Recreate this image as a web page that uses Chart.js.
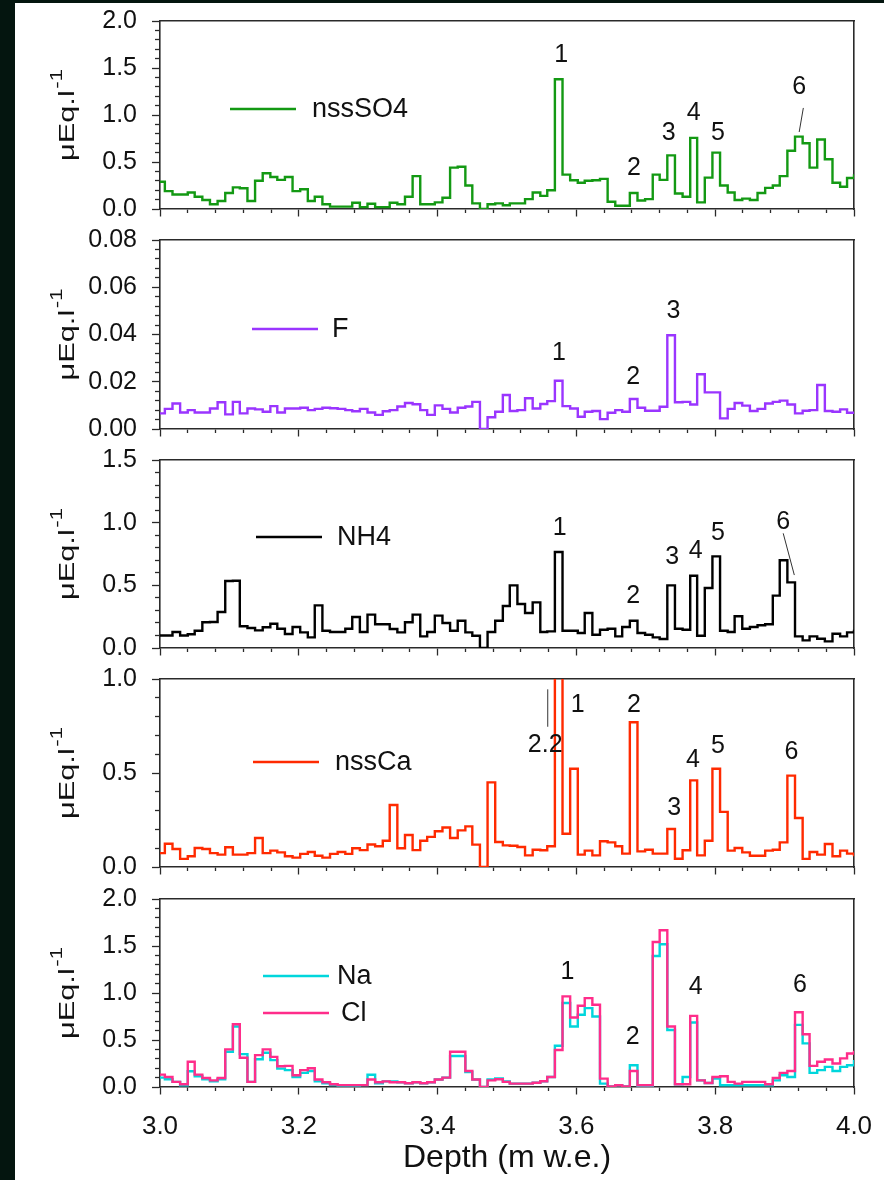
<!DOCTYPE html>
<html>
<head>
<meta charset="utf-8">
<script src="https://cdn.jsdelivr.net/npm/chart.js@4.4.1/dist/chart.umd.min.js"></script>
<style>
  html, body { margin: 0; padding: 0; }
  body { width: 884px; height: 1180px; background: #04150f; position: relative; overflow: hidden; }
  #sheet { position: absolute; left: 15px; top: 3px; width: 869px; height: 1177px; background: #fff; }
  canvas { position: absolute; left: 0; }
</style>
</head>
<body>
<div id="sheet"></div>
<canvas id="pSO4"></canvas>
<canvas id="pF"></canvas>
<canvas id="pNH4"></canvas>
<canvas id="pCa"></canvas>
<canvas id="pNaCl"></canvas>
<script>
// sample tops (m w.e.), last entry closes the final step
const depth = [
  3.000, 3.007, 3.018, 3.029, 3.040, 3.050, 3.061, 3.072, 3.083, 3.094,
  3.105, 3.115, 3.126, 3.137, 3.148, 3.159, 3.169, 3.180, 3.191, 3.202,
  3.213, 3.223, 3.234, 3.245, 3.256, 3.267, 3.277, 3.288, 3.299, 3.310,
  3.321, 3.331, 3.342, 3.353, 3.364, 3.375, 3.385, 3.396, 3.407, 3.418,
  3.429, 3.440, 3.450, 3.461, 3.472, 3.483, 3.494, 3.504, 3.515, 3.526,
  3.537, 3.548, 3.558, 3.569, 3.580, 3.591, 3.602, 3.612, 3.623, 3.634,
  3.645, 3.656, 3.666, 3.677, 3.688, 3.699, 3.710, 3.720, 3.731, 3.742,
  3.753, 3.764, 3.774, 3.785, 3.796, 3.807, 3.818, 3.828, 3.839, 3.850,
  3.861, 3.872, 3.883, 3.893, 3.904, 3.915, 3.926, 3.936, 3.947, 3.958,
  3.969, 3.980, 3.990, 4.000
];

const nssSO4 = [
  0.29, 0.19, 0.155, 0.155, 0.176, 0.13, 0.095, 0.05, 0.085, 0.17,
  0.23, 0.22, 0.085, 0.30, 0.38, 0.34, 0.31, 0.34, 0.19, 0.21,
  0.085, 0.13, 0.05, 0.025, 0.025, 0.025, 0.067, 0.02, 0.056, 0.02,
  0.02, 0.067, 0.05, 0.13, 0.35, 0.05, 0.05, 0.07, 0.12, 0.44,
  0.45, 0.25, 0.06, 0.0, 0.05, 0.06, 0.04, 0.06, 0.06, 0.105,
  0.176, 0.14, 0.2, 1.38, 0.366, 0.306, 0.28, 0.30, 0.306, 0.32,
  0.077, 0.035, 0.035, 0.17, 0.09, 0.105, 0.366, 0.31, 0.57, 0.165,
  0.13, 0.757, 0.07, 0.334, 0.6, 0.25, 0.176, 0.095, 0.11, 0.095,
  0.17, 0.225, 0.25, 0.35, 0.62, 0.77, 0.70, 0.44, 0.74, 0.53,
  0.28, 0.236, 0.33, 0.37
];

const fluoride = [
  0.0066, 0.0085, 0.0108, 0.007, 0.008, 0.007, 0.007, 0.0087, 0.0113, 0.0062,
  0.0115, 0.0066, 0.0087, 0.0083, 0.0073, 0.0097, 0.007, 0.0087, 0.0087, 0.009,
  0.008, 0.0085, 0.009, 0.0088, 0.0085, 0.008, 0.0075, 0.0085, 0.007, 0.006,
  0.0075, 0.008, 0.0095, 0.011, 0.0105, 0.008, 0.006, 0.01, 0.0085, 0.007,
  0.009, 0.0095, 0.0115, 0.0, 0.005, 0.0073, 0.0144, 0.0076, 0.008, 0.013,
  0.0087, 0.0106, 0.0118, 0.0204, 0.0097, 0.0087, 0.0052, 0.0073, 0.0076, 0.0042,
  0.0069, 0.008, 0.0073, 0.0127, 0.009, 0.0077, 0.0077, 0.0094, 0.0397, 0.0113,
  0.0115, 0.0104, 0.0232, 0.0155, 0.0155, 0.0045, 0.0085, 0.011, 0.0099, 0.0076,
  0.0085, 0.0108, 0.0115, 0.012, 0.0104, 0.0066, 0.0077, 0.008, 0.0186, 0.0076,
  0.0073, 0.0083, 0.0069, 0.0069
];

const ammonium = [
  0.10, 0.10, 0.128, 0.10, 0.11, 0.138, 0.205, 0.207, 0.287, 0.535,
  0.537, 0.173, 0.16, 0.141, 0.165, 0.194, 0.154, 0.112, 0.168, 0.125,
  0.085, 0.34, 0.138, 0.128, 0.128, 0.154, 0.247, 0.128, 0.266, 0.19,
  0.19, 0.152, 0.125, 0.205, 0.266, 0.093, 0.128, 0.258, 0.2, 0.138,
  0.218, 0.125, 0.098, 0.0, 0.128, 0.218, 0.335, 0.5, 0.351, 0.279,
  0.364, 0.128, 0.133, 0.766, 0.138, 0.138, 0.12, 0.279, 0.106, 0.146,
  0.154, 0.093, 0.168, 0.218, 0.12, 0.106, 0.085, 0.072, 0.5, 0.154,
  0.146, 0.577, 0.098, 0.479, 0.731, 0.138, 0.128, 0.253, 0.154, 0.168,
  0.181, 0.19, 0.418, 0.7, 0.524, 0.093, 0.061, 0.093, 0.074, 0.053,
  0.114, 0.093, 0.125, 0.146
];

const nssCa = [
  0.074, 0.124, 0.096, 0.043, 0.057, 0.101, 0.096, 0.074, 0.066, 0.105,
  0.066, 0.066, 0.074, 0.154, 0.074, 0.087, 0.078, 0.057, 0.05, 0.07,
  0.08, 0.06, 0.05, 0.07, 0.08, 0.07, 0.1, 0.09, 0.12, 0.11,
  0.14, 0.33, 0.1, 0.17, 0.09, 0.14, 0.16, 0.19, 0.21, 0.154,
  0.195, 0.216, 0.119, 0.0, 0.45, 0.133, 0.115, 0.113, 0.106, 0.062,
  0.092, 0.089, 0.11, 2.2, 0.177, 0.523, 0.066, 0.087, 0.062, 0.137,
  0.131, 0.11, 0.071, 0.77, 0.083, 0.092, 0.071, 0.071, 0.202, 0.044,
  0.089, 0.461, 0.062, 0.14, 0.523, 0.293, 0.087, 0.101, 0.078, 0.06,
  0.06, 0.087, 0.092, 0.131, 0.486, 0.261, 0.043, 0.08, 0.066, 0.122,
  0.057, 0.087, 0.071, 0.057
];

const sodium = [
  0.1, 0.082, 0.054, 0.018, 0.168, 0.114, 0.082, 0.061, 0.082, 0.375,
  0.643, 0.35, 0.054, 0.296, 0.364, 0.286, 0.196, 0.179, 0.107, 0.15,
  0.17, 0.06, 0.04, 0.02, 0.015, 0.015, 0.015, 0.02, 0.13, 0.04,
  0.06, 0.06, 0.05, 0.04, 0.05, 0.04, 0.05, 0.08, 0.1, 0.329,
  0.329, 0.16, 0.079, 0.0, 0.08, 0.09, 0.06, 0.036, 0.036, 0.036,
  0.046, 0.061, 0.107, 0.439, 0.893, 0.643, 0.768, 0.839, 0.75, 0.036,
  0.007, 0.018, 0.007, 0.232, 0.01, 0.01, 1.393, 1.518, 0.607, 0.029,
  0.107, 0.686, 0.071, 0.043, 0.09, 0.018, 0.018, 0.018, 0.018, 0.018,
  0.018, 0.018, 0.071, 0.125, 0.107, 0.661, 0.464, 0.15, 0.179, 0.214,
  0.171, 0.214, 0.232, 0.286
];

const chloride = [
  0.132, 0.107, 0.054, 0.029, 0.268, 0.132, 0.096, 0.071, 0.096, 0.4,
  0.668, 0.311, 0.054, 0.339, 0.4, 0.321, 0.221, 0.225, 0.125, 0.18,
  0.2, 0.08, 0.05, 0.03, 0.02, 0.02, 0.02, 0.02, 0.08, 0.05,
  0.06, 0.05, 0.05, 0.04, 0.05, 0.04, 0.05, 0.08, 0.1, 0.375,
  0.375, 0.171, 0.079, 0.0, 0.071, 0.082, 0.054, 0.036, 0.036, 0.036,
  0.046, 0.061, 0.107, 0.393, 0.964, 0.739, 0.864, 0.946, 0.875, 0.089,
  0.007, 0.018, 0.007, 0.171, 0.018, 0.018, 1.543, 1.668, 0.643, 0.029,
  0.029, 0.757, 0.071, 0.043, 0.107, 0.114, 0.054, 0.036, 0.054, 0.054,
  0.054, 0.029, 0.096, 0.15, 0.171, 0.796, 0.561, 0.225, 0.268, 0.293,
  0.25, 0.304, 0.357, 0.386
];

// peak numbers: [text, depth, value]
const so4Peaks = [['1', 3.578, 1.64], ['2', 3.683, 0.43], ['3', 3.733, 0.81], ['4', 3.769, 1.02], ['5', 3.804, 0.81], ['6', 3.921, 1.30]];
const fPeaks = [['1', 3.575, 0.032], ['2', 3.682, 0.022], ['3', 3.740, 0.050]];
const nh4Peaks = [['1', 3.576, 0.957], ['2', 3.682, 0.415], ['3', 3.738, 0.726], ['4', 3.772, 0.774], ['5', 3.804, 0.918], ['6', 3.898, 1.005]];
const caPeaks = [['2.2', 3.555, 0.649], ['1', 3.602, 0.862], ['2', 3.683, 0.862], ['3', 3.741, 0.314], ['4', 3.768, 0.569], ['5', 3.804, 0.644], ['6', 3.910, 0.613]];
const naClPeaks = [['1', 3.587, 1.227], ['2', 3.681, 0.535], ['4', 3.772, 1.067], ['6', 3.922, 1.085]];

// thin pointer lines: [depth0, value0, depth1, value1]
const so4Leaders = [[3.927, 1.075, 3.921, 0.819]];
const nh4Leaders = [[3.898, 0.915, 3.914, 0.582]];
const caLeaders = [[3.5587, 0.945, 3.5587, 0.746]];

const FONT = "'Liberation Sans', Arial, sans-serif";
const AXIS = '#2a2a2a';

function pts(values) {
  return depth.map((d, i) => ({ x: d, y: values[i] }));
}

const panelDecor = {
  id: 'panelDecor',
  afterDatasetsDraw(chart, args, opts) {
    const { ctx, chartArea: area } = chart;
    const xs = chart.scales.x, ys = chart.scales.y;
    ctx.save();

    // legend: short line + name
    ctx.textBaseline = 'middle';
    ctx.textAlign = 'left';
    ctx.font = '27px ' + FONT;
    opts.legend.forEach(item => {
      const ds = chart.data.datasets[item.ds];
      const lx = area.left + item.x, ly = area.top + item.y;
      ctx.strokeStyle = ds.borderColor;
      ctx.lineWidth = 2.4;
      ctx.beginPath();
      ctx.moveTo(lx, ly);
      ctx.lineTo(lx + 66, ly);
      ctx.stroke();
      ctx.fillStyle = '#111';
      ctx.fillText(ds.label, lx + item.gap, ly + 1);
    });

    // peak numbers
    ctx.textAlign = 'center';
    ctx.font = '25px ' + FONT;
    ctx.fillStyle = '#111';
    opts.marks.forEach(([t, d, v]) => {
      ctx.fillText(t, xs.getPixelForValue(d), ys.getPixelForValue(v));
    });

    ctx.strokeStyle = '#333';
    ctx.lineWidth = 1;
    opts.leaders.forEach(([d0, v0, d1, v1]) => {
      ctx.beginPath();
      ctx.moveTo(xs.getPixelForValue(d0), ys.getPixelForValue(v0));
      ctx.lineTo(xs.getPixelForValue(d1), ys.getPixelForValue(v1));
      ctx.stroke();
    });

    // y title, drawn bottom-to-top with a raised "-1"
    const cy = (area.top + area.bottom) / 2;
    const stretch = 1.4;
    ctx.translate(area.left - 86, cy);
    ctx.rotate(-Math.PI / 2);
    ctx.scale(stretch, 1);
    ctx.textAlign = 'left';
    ctx.textBaseline = 'alphabetic';
    ctx.font = '22px ' + FONT;
    const main = 'μEq.l';
    const w1 = ctx.measureText(main).width;
    ctx.font = '16px ' + FONT;
    const sup = '-1';
    const w2 = ctx.measureText(sup).width;
    const x0 = -(w1 + w2 + 1) / 2;
    ctx.font = '22px ' + FONT;
    ctx.fillText(main, x0, 0);
    ctx.font = '16px ' + FONT;
    ctx.fillText(sup, x0 + w1 + 1, -12);

    ctx.restore();
  }
};

function buildPanel(p) {
  const canvas = document.getElementById(p.id);
  const padTop = 20;
  const below = p.last ? 1180 - p.bottom : 8;
  const h = padTop + (p.bottom - p.top) + below;
  canvas.width = 884;
  canvas.height = h;
  canvas.style.top = (p.top - padTop) + 'px';

  // fixed axis sizes, and no label overhang pushing the plot area inwards
  const fixW = w => s => { s.width = w; s.paddingTop = 0; s.paddingBottom = 0; };
  const fixH = v => s => { s.height = v; s.paddingLeft = 0; s.paddingRight = 0; };
  const tickFont = { family: FONT, size: 25 };

  return new Chart(canvas, {
    type: 'line',
    data: {
      datasets: p.series.map((s, i) => ({
        label: s.label,
        data: pts(s.data),
        borderColor: s.color,
        borderWidth: 2.4,
        // each value holds from its own depth to the next one
        stepped: 'before',
        pointRadius: 0,
        fill: false,
        order: s.order !== undefined ? s.order : i,
        xAxisID: 'x',
        yAxisID: 'y'
      }))
    },
    options: {
      responsive: false,
      animation: false,
      events: [],
      layout: { padding: { left: 15, right: 30, top: padTop, bottom: 0 } },
      plugins: {
        legend: { display: false },
        tooltip: { enabled: false },
        panelDecor: { legend: p.legend, marks: p.marks, leaders: p.leaders || [] }
      },
      scales: {
        x: {
          type: 'linear', position: 'bottom', min: 3, max: 4,
          afterFit: fixH(4),
          ticks: { display: false, stepSize: 0.04 },
          grid: { drawOnChartArea: false, tickLength: 4, tickColor: AXIS, tickWidth: 1.3 },
          border: { color: AXIS, width: 1.6 }
        },
        xMajor: {
          type: 'linear', position: 'bottom', min: 3, max: 4,
          afterFit: fixH(below - 4),
          ticks: {
            display: !!p.last, stepSize: 0.2, padding: 17, autoSkip: false, maxRotation: 0,
            color: '#111', font: { family: FONT, size: 26 },
            callback: v => v.toFixed(1)
          },
          grid: { drawOnChartArea: false, tickLength: 3.5, tickColor: AXIS, tickWidth: 1.3 },
          border: { display: false },
          title: {
            display: !!p.last, text: 'Depth (m w.e.)', color: '#111',
            font: { family: FONT, size: 32 }, padding: { top: 0, bottom: 3 }
          }
        },
        xFrame: {
          type: 'linear', position: 'top', min: 3, max: 4,
          afterFit: fixH(0),
          ticks: { display: false },
          grid: { display: false, drawTicks: false },
          border: { color: AXIS, width: 1.6 }
        },
        y: {
          type: 'linear', position: 'left', min: 0, max: p.yMax,
          afterFit: fixW(5),
          ticks: { display: false, stepSize: p.yMinor },
          grid: { drawOnChartArea: false, tickLength: 5, tickColor: AXIS, tickWidth: 1.3 },
          border: { color: AXIS, width: 1.6 }
        },
        yMajor: {
          type: 'linear', position: 'left', min: 0, max: p.yMax,
          afterFit: fixW(140),
          ticks: {
            stepSize: p.yMajor, padding: 15, color: '#111', font: tickFont,
            callback: v => v.toFixed(p.digits)
          },
          grid: { drawOnChartArea: false, tickLength: 3, tickColor: AXIS, tickWidth: 1.3 },
          border: { display: false }
        },
        yFrame: {
          type: 'linear', position: 'right', min: 0, max: p.yMax,
          afterFit: fixW(0),
          ticks: { display: false },
          grid: { display: false, drawTicks: false },
          border: { color: AXIS, width: 1.6 }
        }
      }
    },
    plugins: [panelDecor]
  });
}

const panels = [
  {
    id: 'pSO4', top: 21, bottom: 209, yMax: 2.0, yMinor: 0.1, yMajor: 0.5, digits: 1,
    series: [{ label: 'nssSO4', data: nssSO4, color: '#139913' }],
    legend: [{ ds: 0, x: 70, y: 88, gap: 82 }],
    marks: so4Peaks, leaders: so4Leaders
  },
  {
    id: 'pF', top: 240, bottom: 429, yMax: 0.08, yMinor: 0.004, yMajor: 0.02, digits: 2,
    series: [{ label: 'F', data: fluoride, color: '#9a35ff' }],
    legend: [{ ds: 0, x: 92, y: 89, gap: 80 }],
    marks: fPeaks
  },
  {
    id: 'pNH4', top: 460, bottom: 648, yMax: 1.5, yMinor: 0.1, yMajor: 0.5, digits: 1,
    series: [{ label: 'NH4', data: ammonium, color: '#000000' }],
    legend: [{ ds: 0, x: 96, y: 77, gap: 81 }],
    marks: nh4Peaks, leaders: nh4Leaders
  },
  {
    id: 'pCa', top: 679, bottom: 867, yMax: 1.0, yMinor: 0.1, yMajor: 0.5, digits: 1,
    series: [{ label: 'nssCa', data: nssCa, color: '#ff2a00' }],
    legend: [{ ds: 0, x: 93, y: 83, gap: 82 }],
    marks: caPeaks, leaders: caLeaders
  },
  {
    id: 'pNaCl', top: 899, bottom: 1087, yMax: 2.0, yMinor: 0.1, yMajor: 0.5, digits: 1, last: true,
    series: [
      { label: 'Na', data: sodium, color: '#00d6dc', order: 2 },
      { label: 'Cl', data: chloride, color: '#ff2d8a', order: 1 }
    ],
    legend: [{ ds: 0, x: 103, y: 77, gap: 74 }, { ds: 1, x: 103, y: 114, gap: 78 }],
    marks: naClPeaks
  }
];

panels.forEach(buildPanel);
</script>
</body>
</html>
